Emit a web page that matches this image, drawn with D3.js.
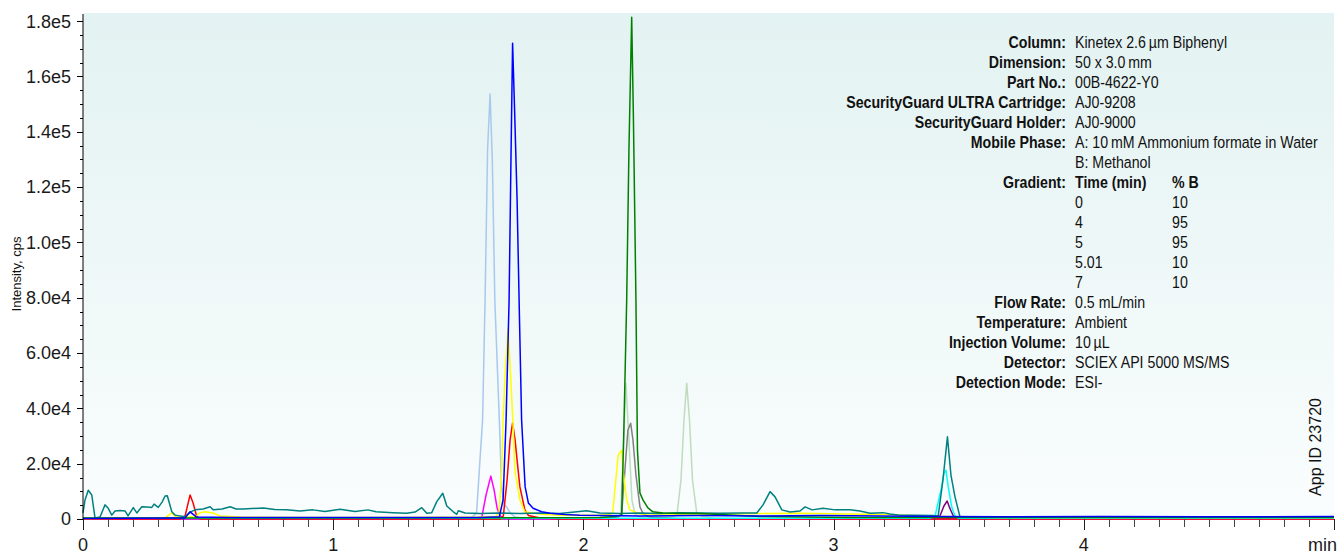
<!DOCTYPE html>
<html>
<head>
<meta charset="utf-8">
<script src="https://cdn.jsdelivr.net/npm/d3@7"></script>
<style>
  body { margin: 0; background: #fff; }
  svg { display: block; font-family: "Liberation Sans", Arial, Helvetica, sans-serif; }
</style>
</head>
<body>
<div id="wrapper"></div>
<script>
// 1. Data: [time (min), intensity (cps)]

const teal = [
  [0, 2200], [0.008, 6900], [0.021, 10400], [0.035, 8700], [0.048, 400], [0.068, 700],
  [0.088, 5100], [0.100, 4000], [0.115, 1400], [0.128, 2900], [0.148, 3100], [0.168, 2900],
  [0.180, 1100], [0.201, 4100], [0.215, 2200], [0.235, 4400], [0.256, 4300], [0.275, 4200],
  [0.284, 5400], [0.301, 4200], [0.316, 6100], [0.328, 8300], [0.337, 8400], [0.355, 2600],
  [0.368, 1400], [0.408, 800], [0.428, 2500], [0.448, 3300], [0.480, 3600], [0.508, 4400],
  [0.521, 3300], [0.556, 3600], [0.588, 4400], [0.612, 3600], [0.639, 3600], [0.675, 3800],
  [0.721, 4000], [0.767, 3400], [0.814, 3300], [0.867, 2900], [0.919, 3300], [0.967, 2700],
  [1.027, 3500], [1.087, 2700], [1.139, 3300], [1.171, 2600], [1.239, 2300], [1.294, 2100],
  [1.327, 2500], [1.354, 4100], [1.374, 2100], [1.394, 2300], [1.414, 6300], [1.438, 9300],
  [1.454, 4700], [1.480, 2600], [1.494, 1700], [1.500, 3000], [1.527, 2200], [1.587, 2000],
  [1.667, 2200], [1.747, 2000], [1.827, 2200], [1.906, 2000], [2.013, 3000], [2.066, 2200],
  [2.146, 2000], [2.226, 2200], [2.306, 2000], [2.386, 2300], [2.466, 2200], [2.546, 2100],
  [2.626, 2200], [2.693, 2200], [2.718, 5100], [2.746, 9900], [2.766, 8000], [2.793, 3300],
  [2.826, 2500], [2.866, 2900], [2.886, 4400], [2.914, 3300], [2.958, 3900], [3.006, 3300],
  [3.066, 3300], [3.105, 2900], [3.146, 2100], [3.197, 2300], [3.225, 1800], [3.265, 1400],
  [3.325, 1400], [3.397, 1300], [3.418, 1100], [3.437, 14100], [3.455, 29700], [3.469, 15900],
  [3.485, 8100], [3.505, 800], [3.625, 700], [3.865, 600], [4.265, 700], [4.664, 600], [5.0, 700]
]

const lightBlue = [
  [0, 0], [1.547, 0], [1.573, 2200], [1.597, 35800], [1.607, 79100],
  [1.617, 133400], [1.627, 153600], [1.636, 129700], [1.646, 79100], [1.664, 35800],
  [1.673, 11700], [1.683, 5100], [1.693, 4400], [1.707, 2200], [1.727, 700], [1.787, 0],
  [5.0, 0]
]

const blue = [
  [0, 200], [0.388, 400], [0.408, 400], [0.428, 2600], [0.454, 700], [0.588, 500],
  [0.867, 500], [1.267, 500], [1.587, 500], [1.664, 800], [1.679, 6900], [1.691, 35800],
  [1.703, 79100], [1.711, 133400], [1.717, 172000], [1.725, 147800], [1.735, 115300],
  [1.743, 79100], [1.753, 35800], [1.767, 11700], [1.780, 5800], [1.799, 3900], [1.833, 2600],
  [1.867, 2100], [1.926, 1600], [1.986, 1400], [2.066, 1300], [2.226, 1100], [2.466, 1300],
  [2.706, 1100], [2.946, 1300], [3.185, 1100], [3.425, 900], [3.665, 800], [4.065, 900],
  [4.465, 800], [5.0, 900]
]

const green = [
  [0, 400], [1.267, 400], [2.066, 500], [2.126, 900], [2.153, 1400], [2.162, 33400],
  [2.173, 79100], [2.182, 133400], [2.193, 181400], [2.200, 144200], [2.210, 79100],
  [2.216, 24900], [2.226, 9400], [2.238, 6900], [2.258, 4000], [2.278, 2600], [2.318, 2200],
  [2.386, 2000], [2.466, 2000], [2.546, 1600], [2.706, 900], [3.066, 500], [3.665, 500], [5.0, 500]
]

const yellow = [
  [0, 200], [0.328, 400], [0.355, 2200], [0.372, 700], [0.448, 700], [0.468, 2300],
  [0.488, 2600], [0.520, 2200], [0.548, 1100], [0.628, 700], [0.867, 500], [1.267, 500],
  [1.587, 700], [1.650, 900], [1.663, 2200], [1.674, 17700], [1.679, 35800], [1.690, 57500],
  [1.699, 69000], [1.710, 50200], [1.718, 35800], [1.726, 17700], [1.746, 6900], [1.766, 2600],
  [1.793, 2200], [1.847, 1600], [1.906, 1400], [2.066, 1400], [2.106, 1600], [2.117, 2200],
  [2.139, 23100], [2.153, 24900], [2.158, 17700], [2.173, 6900], [2.186, 3300], [2.226, 1800],
  [2.466, 1800], [2.866, 2100], [3.185, 1600], [3.425, 900], [3.665, 500], [5.0, 500]
]

const red = [
  [0, 0], [0.388, 0], [0.408, 1100], [0.428, 8700], [0.440, 5800], [0.454, 1100],
  [0.468, 0], [1.667, 0], [1.680, 1100], [1.695, 14100], [1.707, 28600],
  [1.717, 34700], [1.727, 28600], [1.735, 21300], [1.746, 11700], [1.766, 3300], [1.780, 1300],
  [1.827, 400], [1.9, 0], [5.0, 0]
]

const magenta = [
  [0, 0], [1.547, 0], [1.594, 700], [1.611, 8700], [1.630, 15500], [1.643, 10500],
  [1.655, 4000], [1.667, 1100], [1.687, 0], [5.0, 0]
]

const gray = [
  [0, 0], [2.066, 0], [2.138, 700], [2.153, 1800], [2.166, 17700], [2.178, 32200],
  [2.189, 34600], [2.198, 28600], [2.210, 15900], [2.226, 4400], [2.239, 1800], [2.266, 700],
  [2.4, 0], [5.0, 0]
]

const paleGreen = [
  [0, 0], [2.066, 0], [2.138, 700], [2.149, 1800], [2.158, 21300], [2.170, 49100],
  [2.182, 28600], [2.194, 6900], [2.206, 1800], [2.226, 700], [2.346, 700], [2.374, 1400],
  [2.390, 14100], [2.402, 35800], [2.413, 49100], [2.424, 35800], [2.436, 14100],
  [2.453, 2200], [2.474, 900], [2.546, 0], [5.0, 0]
]

const cyan = [
  [0, 300], [3.385, 300], [3.405, 800], [3.432, 11700], [3.441, 16500], [3.449, 17700],
  [3.458, 11700], [3.472, 4400], [3.485, 1100], [3.497, 300], [5.0, 300]
]

const purple = [
  [0, 0], [3.405, 0], [3.425, 1100], [3.441, 4700], [3.454, 6500], [3.464, 4000],
  [3.484, 0], [5.0, 0]
]

// drawn bottom to top
const seriesData = [paleGreen, lightBlue, purple, gray, magenta, red, cyan, yellow, teal, green, blue]
const seriesColors = ["#bfdcbf", "#a8c8ee", "#800080", "#808080", "#ff00ff", "#ff0000", "#00ffff", "#ffff00", "#008080", "#008000", "#0000ff"]

const yTickValues = [0, 20000, 40000, 60000, 80000, 100000, 120000, 140000, 160000, 180000]
const xTickValues = [0, 1, 2, 3, 4]

const infoLabels = ["Column:", "Dimension:", "Part No.:", "SecurityGuard ULTRA Cartridge:",
  "SecurityGuard Holder:", "Mobile Phase:", "", "Gradient:", "", "", "", "", "",
  "Flow Rate:", "Temperature:", "Injection Volume:", "Detector:", "Detection Mode:"]
const infoValues = ["Kinetex 2.6\u2009\u00b5m Biphenyl", "50 x 3.0\u2009mm", "00B-4622-Y0", "AJ0-9208",
  "AJ0-9000", "A: 10\u2009mM Ammonium formate in Water", "B: Methanol", "Time (min)",
  "0", "4", "5", "5.01", "7",
  "0.5 mL/min", "Ambient", "10\u2009\u00b5L", "SCIEX API 5000 MS/MS", "ESI-"]
const gradientB = ["% B", "10", "95", "95", "10", "10"]

const xAccessor = d => d[0]
const yAccessor = d => d[1]

// 2. Dimensions
let dimensions = {
  width: 1339,
  height: 555,
  margin: { top: 13, right: 5, bottom: 36, left: 83 },
}
dimensions.boundedWidth = dimensions.width - dimensions.margin.left - dimensions.margin.right
dimensions.boundedHeight = dimensions.height - dimensions.margin.top - dimensions.margin.bottom

// 3. Canvas
const wrapper = d3.select("#wrapper")
  .append("svg")
  .attr("width", dimensions.width)
  .attr("height", dimensions.height)

const defs = wrapper.append("defs")
const grad = defs.append("linearGradient")
  .attr("id", "bg")
  .attr("x1", 0).attr("y1", 0).attr("x2", 0).attr("y2", 1)
grad.append("stop").attr("offset", "0%").attr("stop-color", "#e3f2f2")
grad.append("stop").attr("offset", "100%").attr("stop-color", "#fafdfd")

const bounds = wrapper.append("g")
  .attr("transform", `translate(${dimensions.margin.left},${dimensions.margin.top})`)

// 4. Scales
const xScale = d3.scaleLinear()
  .domain([0, 5])
  .range([0, dimensions.boundedWidth])

const yScale = d3.scaleLinear()
  .domain([0, 182900])
  .range([dimensions.boundedHeight, 0])

// background
bounds.append("rect")
  .attr("width", dimensions.boundedWidth)
  .attr("height", dimensions.boundedHeight)
  .attr("fill", "url(#bg)")

// 5. Text block (drawn under the traces)
const info = bounds.append("g")
  .attr("transform", `translate(0,${-dimensions.margin.top})`)
  .style("font-size", "16.5px")
  .attr("fill", "#111")

const labelGroup = info.append("g")
  .attr("transform", `translate(${1066 - dimensions.margin.left},0) scale(0.86,1)`)
labelGroup.selectAll("text")
  .data(infoLabels)
  .enter()
  .append("text")
  .attr("y", (d, i) => 47.7 + i * 20)
  .attr("text-anchor", "end")
  .style("font-weight", "bold")
  .text(d => d)

const valueGroup = info.append("g")
  .attr("transform", `translate(${1075 - dimensions.margin.left},0) scale(0.86,1)`)
valueGroup.selectAll("text")
  .data(infoValues)
  .enter()
  .append("text")
  .attr("y", (d, i) => 47.7 + i * 20)
  .style("font-weight", (d, i) => i === 7 ? "bold" : "normal")
  .text(d => d)

valueGroup.selectAll("text.pb")
  .data(gradientB)
  .enter()
  .append("text")
  .attr("class", "pb")
  .attr("x", (1172 - 1075) / 0.86)
  .attr("y", (d, i) => 47.7 + (7 + i) * 20)
  .style("font-weight", (d, i) => i === 0 ? "bold" : "normal")
  .text(d => d)

// 6. Traces
const lineGenerator = d3.line()
  .x(d => xScale(xAccessor(d)))
  .y(d => yScale(yAccessor(d)))

bounds.selectAll("path.trace")
  .data(seriesData)
  .enter()
  .append("path")
  .attr("class", "trace")
  .attr("d", lineGenerator)
  .attr("fill", "none")
  .attr("stroke", (d, i) => seriesColors[i])
  .attr("stroke-width", 1.5)
  .attr("stroke-linejoin", "round")

// 7. Axes
const yAxis = bounds.append("g")
yAxis.append("line")
  .attr("y1", 1).attr("y2", dimensions.boundedHeight)
  .attr("stroke", "#000")

yAxis.selectAll("line.minor")
  .data(d3.range(0, 185000, 5000))
  .enter()
  .append("line")
  .attr("class", "minor")
  .attr("x1", d => yTickValues.includes(d) ? -6 : -3)
  .attr("x2", 0)
  .attr("y1", d => Math.round(yScale(d)) + 0.5)
  .attr("y2", d => Math.round(yScale(d)) + 0.5)
  .attr("stroke", "#000")

const yFormat = v => v === 0 ? "0" : v < 100000 ? (v / 1e4).toFixed(1) + "e4" : (v / 1e5).toFixed(1) + "e5"
yAxis.selectAll("text")
  .data(yTickValues)
  .enter()
  .append("text")
  .attr("x", -12)
  .attr("y", d => yScale(d))
  .attr("dy", "0.36em")
  .attr("text-anchor", "end")
  .style("font-size", "18px")
  .attr("fill", "#1a1a1a")
  .text(yFormat)

yAxis.append("text")
  .attr("transform", `translate(${21 - dimensions.margin.left},${274 - dimensions.margin.top}) rotate(-90)`)
  .attr("text-anchor", "middle")
  .style("font-size", "13px")
  .attr("fill", "#111")
  .text("Intensity, cps")

const xAxis = bounds.append("g")
  .attr("transform", `translate(0,${dimensions.boundedHeight})`)

xAxis.selectAll("line")
  .data(d3.range(0, 51).map(d => d / 10))
  .enter()
  .append("line")
  .attr("x1", d => Math.round(xScale(d)) + 0.5)
  .attr("x2", d => Math.round(xScale(d)) + 0.5)
  .attr("y1", 0)
  .attr("y2", d => Number.isInteger(d) ? 11 : 8)
  .attr("stroke", d => Number.isInteger(d) ? "#222" : "#444")

xAxis.selectAll("text.tick")
  .data(xTickValues)
  .enter()
  .append("text")
  .attr("class", "tick")
  .attr("x", d => xScale(d))
  .attr("y", 32)
  .attr("text-anchor", "middle")
  .style("font-size", "18px")
  .attr("fill", "#1a1a1a")
  .text(d => d)

xAxis.append("text")
  .attr("x", 1308 - dimensions.margin.left)
  .attr("y", 32)
  .style("font-size", "18px")
  .attr("fill", "#1a1a1a")
  .text("min")

bounds.append("text")
  .attr("transform", `translate(${1321 - dimensions.margin.left},${447 - dimensions.margin.top}) rotate(-90)`)
  .attr("text-anchor", "middle")
  .style("font-size", "16px")
  .attr("fill", "#111")
  .text("App ID 23720")
</script>
</body>
</html>
